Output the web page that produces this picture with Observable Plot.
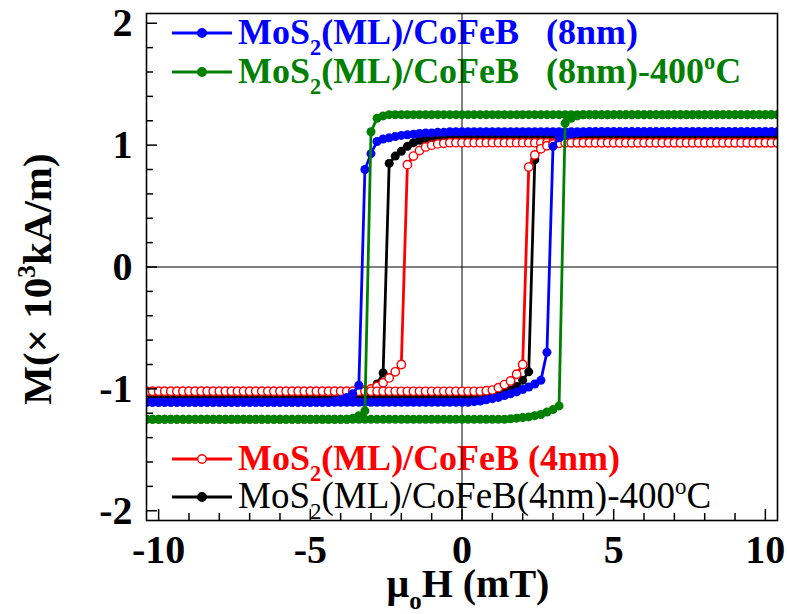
<!DOCTYPE html>
<html><head><meta charset="utf-8">
<script src="https://cdn.jsdelivr.net/npm/d3@7"></script>
<script src="https://cdn.jsdelivr.net/npm/@observablehq/plot@0.6"></script>
<style>body{margin:0;background:#fff;} svg text{white-space:pre;}</style>
</head><body><div id="chart"></div>
<script>
// Applied field sweep (mT)
const H = [
-10.4,-10.2,-10.0,-9.8,-9.6,-9.4,-9.2,-9.0,-8.8,-8.6,-8.4,-8.2,-8.0,-7.8,-7.6,-7.4,-7.2,-7.0,-6.8,-6.6,-6.4,-6.2,-6.0,-5.8,-5.6,-5.4,-5.2,-5.0,-4.8,-4.6,-4.4,-4.2,
-4.0,-3.8,-3.6,-3.4,-3.2,-3.0,-2.8,-2.6,-2.4,-2.2,-2.0,-1.8,-1.6,-1.4,-1.2,-1.0,-0.8,-0.6,-0.4,-0.2,0.0,
0.2,0.4,0.6,0.8,1.0,1.2,1.4,1.6,1.8,2.0,2.2,2.4,2.6,2.8,3.0,3.2,3.4,3.6,3.8,4.0,
4.2,4.4,4.6,4.8,5.0,5.2,5.4,5.6,5.8,6.0,6.2,6.4,6.6,6.8,7.0,7.2,7.4,7.6,7.8,8.0,8.2,8.4,8.6,8.8,9.0,9.2,9.4,9.6,9.8,10.0,10.2,10.4];

// MoS2(ML)/CoFeB (4nm) – red
const red4Down = [
-1.02,-1.02,-1.02,-1.02,-1.02,-1.02,-1.02,-1.02,-1.02,-1.02,-1.02,-1.02,-1.02,-1.02,-1.02,-1.02,
-1.02,-1.02,-1.02,-1.02,-1.02,-1.02,-1.02,-1.02,-1.02,-1.02,-1.02,-1.02,-1.02,-1.02,-1.02,-1.02,
-1.02,-1.02,-1.02,-1.015,-1.01,-1.00,-0.98,-0.95,-0.91,-0.86,-0.80,0.84,0.91,0.955,0.985,1.00,1.01,1.015,1.02,1.02,1.02,
1.02,1.02,1.02,1.02,1.02,1.02,1.02,1.02,1.02,1.02,1.02,1.02,1.02,1.02,1.02,1.02,1.02,1.02,1.02,1.02,
1.02,1.02,1.02,1.02,1.02,1.02,1.02,1.02,1.02,1.02,1.02,1.02,1.02,1.02,1.02,1.02,
1.02,1.02,1.02,1.02,1.02,1.02,1.02,1.02,1.02,1.02,1.02,1.02,1.02,1.02,1.02,1.02];
const red4Up = [
-1.02,-1.02,-1.02,-1.02,-1.02,-1.02,-1.02,-1.02,-1.02,-1.02,-1.02,-1.02,-1.02,-1.02,-1.02,-1.02,
-1.02,-1.02,-1.02,-1.02,-1.02,-1.02,-1.02,-1.02,-1.02,-1.02,-1.02,-1.02,-1.02,-1.02,-1.02,-1.02,
-1.02,-1.02,-1.02,-1.02,-1.02,-1.02,-1.02,-1.02,-1.02,-1.02,-1.02,-1.02,-1.02,-1.02,-1.02,-1.02,-1.02,-1.02,-1.02,-1.02,-1.02,
-1.02,-1.02,-1.02,-1.015,-1.01,-0.99,-0.965,-0.935,-0.88,-0.80,0.82,0.92,0.97,0.995,1.01,1.015,1.02,1.02,1.02,1.02,
1.02,1.02,1.02,1.02,1.02,1.02,1.02,1.02,1.02,1.02,1.02,1.02,1.02,1.02,1.02,1.02,
1.02,1.02,1.02,1.02,1.02,1.02,1.02,1.02,1.02,1.02,1.02,1.02,1.02,1.02,1.02,1.02];

// MoS2(ML)/CoFeB(4nm)-400oC – black
const blk4Down = [
-1.07,-1.07,-1.07,-1.07,-1.07,-1.07,-1.07,-1.07,-1.07,-1.07,-1.07,-1.07,-1.07,-1.07,-1.07,-1.07,
-1.07,-1.07,-1.07,-1.07,-1.07,-1.07,-1.07,-1.07,-1.07,-1.07,-1.07,-1.07,-1.07,-1.07,-1.07,-1.07,
-1.07,-1.07,-1.065,-1.055,-1.04,-1.01,-0.96,-0.87,0.85,0.91,0.95,0.99,1.02,1.04,1.055,1.06,1.065,1.07,1.07,1.07,1.07,
1.07,1.07,1.07,1.07,1.07,1.07,1.07,1.07,1.07,1.07,1.07,1.07,1.07,1.07,1.07,1.07,1.07,1.07,1.07,1.07,
1.07,1.07,1.07,1.07,1.07,1.07,1.07,1.07,1.07,1.07,1.07,1.07,1.07,1.07,1.07,1.07,
1.07,1.07,1.07,1.07,1.07,1.07,1.07,1.07,1.07,1.07,1.07,1.07,1.07,1.07,1.07,1.07];
const blk4Up = [
-1.07,-1.07,-1.07,-1.07,-1.07,-1.07,-1.07,-1.07,-1.07,-1.07,-1.07,-1.07,-1.07,-1.07,-1.07,-1.07,
-1.07,-1.07,-1.07,-1.07,-1.07,-1.07,-1.07,-1.07,-1.07,-1.07,-1.07,-1.07,-1.07,-1.07,-1.07,-1.07,
-1.07,-1.07,-1.07,-1.07,-1.07,-1.07,-1.07,-1.07,-1.07,-1.07,-1.07,-1.07,-1.07,-1.07,-1.07,-1.07,-1.07,-1.07,-1.07,-1.07,-1.07,
-1.07,-1.07,-1.065,-1.06,-1.055,-1.045,-1.03,-1.01,-0.98,-0.93,-0.86,0.88,0.98,1.03,1.05,1.06,1.065,1.07,1.07,1.07,
1.07,1.07,1.07,1.07,1.07,1.07,1.07,1.07,1.07,1.07,1.07,1.07,1.07,1.07,1.07,1.07,
1.07,1.07,1.07,1.07,1.07,1.07,1.07,1.07,1.07,1.07,1.07,1.07,1.07,1.07,1.07,1.07];

// MoS2(ML)/CoFeB (8nm) – blue
const blu8Down = [
-1.11,-1.11,-1.11,-1.11,-1.11,-1.11,-1.11,-1.11,-1.11,-1.11,-1.11,-1.11,-1.11,-1.11,-1.11,-1.11,
-1.11,-1.11,-1.11,-1.11,-1.11,-1.11,-1.11,-1.11,-1.11,-1.11,-1.11,-1.11,-1.11,-1.11,-1.11,-1.10,
-1.09,-1.07,-1.04,-0.97,0.80,0.93,1.03,1.05,1.06,1.07,1.08,1.085,1.09,1.095,1.10,1.10,1.105,1.105,1.11,1.11,1.11,
1.11,1.11,1.11,1.11,1.11,1.11,1.11,1.11,1.11,1.11,1.11,1.11,1.11,1.11,1.11,1.11,1.11,1.11,1.11,1.11,
1.11,1.11,1.11,1.11,1.11,1.11,1.11,1.11,1.11,1.11,1.11,1.11,1.11,1.11,1.11,1.11,
1.11,1.11,1.11,1.11,1.11,1.11,1.11,1.11,1.11,1.11,1.11,1.11,1.11,1.11,1.11,1.11];
const blu8Up = [
-1.11,-1.11,-1.11,-1.11,-1.11,-1.11,-1.11,-1.11,-1.11,-1.11,-1.11,-1.11,-1.11,-1.11,-1.11,-1.11,
-1.11,-1.11,-1.11,-1.11,-1.11,-1.11,-1.11,-1.11,-1.11,-1.11,-1.11,-1.11,-1.11,-1.11,-1.11,-1.11,
-1.11,-1.11,-1.11,-1.11,-1.11,-1.11,-1.11,-1.11,-1.11,-1.11,-1.11,-1.11,-1.11,-1.11,-1.11,-1.11,-1.11,-1.11,-1.11,-1.11,-1.11,
-1.11,-1.105,-1.10,-1.09,-1.08,-1.07,-1.055,-1.04,-1.025,-1.005,-0.985,-0.96,-0.93,-0.70,0.99,1.06,1.08,1.09,1.10,1.105,
1.11,1.11,1.11,1.11,1.11,1.11,1.11,1.11,1.11,1.11,1.11,1.11,1.11,1.11,1.11,1.11,
1.11,1.11,1.11,1.11,1.11,1.11,1.11,1.11,1.11,1.11,1.11,1.11,1.11,1.11,1.11,1.11];

// MoS2(ML)/CoFeB (8nm)-400oC – green
const grn8Down = [
-1.25,-1.25,-1.25,-1.25,-1.25,-1.25,-1.25,-1.25,-1.25,-1.25,-1.25,-1.25,-1.25,-1.25,-1.25,-1.25,
-1.25,-1.25,-1.25,-1.25,-1.25,-1.25,-1.25,-1.25,-1.25,-1.25,-1.25,-1.25,-1.25,-1.25,-1.25,-1.25,
-1.25,-1.25,-1.24,-1.22,-1.18,1.11,1.22,1.24,1.25,1.25,1.25,1.25,1.25,1.25,1.25,1.25,1.25,1.25,1.25,1.25,1.25,
1.25,1.25,1.25,1.25,1.25,1.25,1.25,1.25,1.25,1.25,1.25,1.25,1.25,1.25,1.25,1.25,1.25,1.25,1.25,1.25,
1.25,1.25,1.25,1.25,1.25,1.25,1.25,1.25,1.25,1.25,1.25,1.25,1.25,1.25,1.25,1.25,
1.25,1.25,1.25,1.25,1.25,1.25,1.25,1.25,1.25,1.25,1.25,1.25,1.25,1.25,1.25,1.25];
const grn8Up = [
-1.25,-1.25,-1.25,-1.25,-1.25,-1.25,-1.25,-1.25,-1.25,-1.25,-1.25,-1.25,-1.25,-1.25,-1.25,-1.25,
-1.25,-1.25,-1.25,-1.25,-1.25,-1.25,-1.25,-1.25,-1.25,-1.25,-1.25,-1.25,-1.25,-1.25,-1.25,-1.25,
-1.25,-1.25,-1.25,-1.25,-1.25,-1.25,-1.25,-1.25,-1.25,-1.25,-1.25,-1.25,-1.25,-1.25,-1.25,-1.25,-1.25,-1.25,-1.25,-1.25,-1.25,
-1.25,-1.25,-1.25,-1.25,-1.25,-1.25,-1.25,-1.245,-1.24,-1.235,-1.23,-1.22,-1.21,-1.19,-1.17,-1.14,1.18,1.22,1.24,1.25,
1.25,1.25,1.25,1.25,1.25,1.25,1.25,1.25,1.25,1.25,1.25,1.25,1.25,1.25,1.25,1.25,
1.25,1.25,1.25,1.25,1.25,1.25,1.25,1.25,1.25,1.25,1.25,1.25,1.25,1.25,1.25,1.25];

const xMajor = [-10, -5, 0, 5, 10];
const xMinor = [-9,-8,-7,-6,-4,-3,-2,-1,1,2,3,4,6,7,8,9];
const yMajor = [-2, -1, 0, 1, 2];
const yMinor = [-1.8,-1.6,-1.4,-1.2,-0.8,-0.6,-0.4,-0.2,0.2,0.4,0.6,0.8,1.2,1.4,1.6,1.8];

const series = [
  {key: "blk", down: blk4Down, up: blk4Up, color: "#000000", open: false},
  {key: "red", down: red4Down, up: red4Up, color: "#ff0000", open: true},
  {key: "blu", down: blu8Down, up: blu8Up, color: "#0000ff", open: false},
  {key: "grn", down: grn8Down, up: grn8Up, color: "#008000", open: false}
];

const seriesMarks = series.flatMap(s => {
  const rows = [
    ...H.map((h, i) => ({H: h, M: s.down[i], b: "down"})),
    ...H.map((h, i) => ({H: h, M: s.up[i], b: "up"}))
  ];
  return [
    Plot.line(rows, {x: "H", y: "M", z: "b", stroke: s.color, strokeWidth: 2.8, clip: true}),
    Plot.dot(rows, {x: "H", y: "M", r: s.open ? 4.2 : 4.5, fill: s.open ? "white" : s.color,
      stroke: s.open ? s.color : "none", strokeWidth: 1.4, clip: true})
  ];
});

const empty = () => "";
const svg = Plot.plot({
  width: 787, height: 614,
  marginLeft: 146, marginRight: 10, marginTop: 13, marginBottom: 94,
  x: {domain: [-10.4, 10.4]},
  y: {domain: [-2.08, 2.08]},
  style: {fontFamily: "Liberation Serif", fontWeight: "bold", background: "white", color: "black"},
  marks: [
    Plot.ruleY([0], {stroke: "black", strokeWidth: 1}),
    Plot.ruleX([0], {stroke: "black", strokeWidth: 1}),
    ...seriesMarks,
    Plot.frame({stroke: "black", strokeWidth: 1.6}),
    Plot.axisY(yMajor, {tickSize: 11, dx: 11, tickFormat: empty, strokeWidth: 1.5, label: null}),
    Plot.axisY(yMinor, {tickSize: 7, dx: 7, tickFormat: empty, strokeWidth: 1.5, label: null}),
    Plot.axisY(yMajor, {tickSize: 0, tickPadding: 14, tickFormat: d => String(d), fontSize: 40, label: null}),
    Plot.axisX(xMajor, {tickSize: 11, dy: -11, tickFormat: empty, strokeWidth: 1.5, label: null}),
    Plot.axisX(xMinor, {tickSize: 7, dy: -7, tickFormat: empty, strokeWidth: 1.5, label: null}),
    Plot.axisX(xMajor, {tickSize: 0, tickPadding: 14, tickFormat: d => String(d), fontSize: 40, label: null})
  ]
});
document.getElementById("chart").appendChild(svg);

const root = d3.select(svg);
const FONT = "Liberation Serif";

function richText(g, x, y, parts, size, color, weight, anchor) {
  const t = g.append("text").attr("x", x).attr("y", y)
    .attr("fill", color).attr("font-family", FONT).attr("font-weight", weight)
    .attr("font-size", size).attr("text-anchor", anchor);
  let shift = 0;
  for (const [str, kind] of parts) {
    let target = 0, fs = size;
    if (kind === "sub") { target = size * 0.3; fs = size * 0.62; }
    if (kind === "sup") { target = -size * 0.38; fs = size * 0.62; }
    t.append("tspan").attr("dy", target - shift).attr("font-size", fs).text(str);
    shift = target;
  }
  return t;
}

// axis titles
const yl = root.append("g").attr("transform", "translate(51,279) rotate(-90)");
richText(yl, 0, 0, [["M(× 10", "n"], ["3", "sup"], ["kA/m)", "n"]], 41, "black", "bold", "middle");
richText(root.append("g"), 468, 597, [["μ", "n"], ["o", "sub"], ["H (mT)", "n"]], 40, "black", "bold", "middle");

// legend
const legend = [
  {y: 33, color: "#0000ff", open: false, weight: "bold", size: 36,
   parts: [["MoS", "n"], ["2", "sub"], ["(ML)/CoFeB   (8nm)", "n"]]},
  {y: 72, color: "#008000", open: false, weight: "bold", size: 36,
   parts: [["MoS", "n"], ["2", "sub"], ["(ML)/CoFeB   (8nm)-400", "n"], ["o", "sup"], ["C", "n"]]},
  {y: 459, color: "#ff0000", open: true, weight: "bold", size: 36,
   parts: [["MoS", "n"], ["2", "sub"], ["(ML)/CoFeB (4nm)", "n"]]},
  {y: 497, color: "#000000", open: false, weight: "normal", size: 37,
   parts: [["MoS", "n"], ["2", "sub"], ["(ML)/CoFeB(4nm)-400", "n"], ["o", "sup"], ["C", "n"]]}
];
const lg = root.insert("g", ":first-child");
for (const L of legend) {
  lg.append("line").attr("x1", 172).attr("x2", 232).attr("y1", L.y).attr("y2", L.y)
    .attr("stroke", L.color).attr("stroke-width", 2.8);
  lg.append("circle").attr("cx", 202).attr("cy", L.y).attr("r", 4.3)
    .attr("fill", L.open ? "white" : L.color).attr("stroke", L.color).attr("stroke-width", 1.4);
  richText(lg, 238, L.y + 11, L.parts, L.size, L.color, L.weight, "start");
}
</script>
</body></html>
